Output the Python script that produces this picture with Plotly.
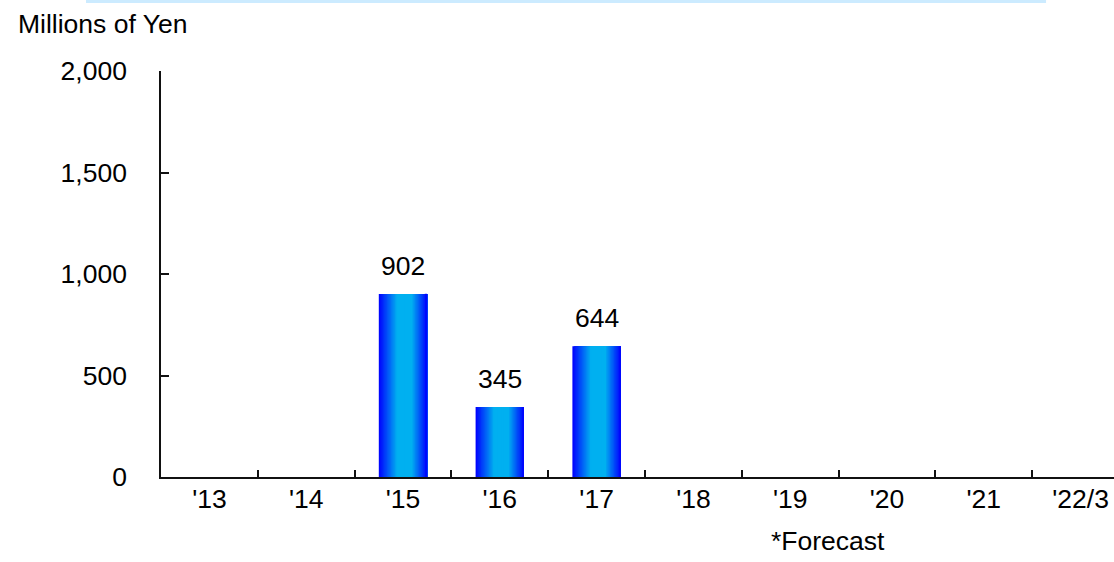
import plotly.graph_objects as go

# Fiscal years on the category axis and the reported amounts (millions of yen)
years = ["'13", "'14", "'15", "'16", "'17", "'18", "'19", "'20", "'21", "'22/3"]
amounts = [None, None, 902, 345, 644, None, None, None, None, None]
y_ticks = [0, 500, 1000, 1500, 2000]
y_tick_text = ["0", "500", "1,000", "1,500", "2,000"]

FONT = "Liberation Sans, Arial, sans-serif"
FS = 26.5
BAR_W = 0.5
N_SLICES = 36

BLUE = (0, 0, 255)
CYAN = (0, 176, 240)
# horizontal gradient stops across the bar width: blue edge -> cyan band -> blue edge
stops = [(0.0, BLUE), (0.38, CYAN), (0.68, CYAN), (1.0, BLUE)]


def grad_color(t):
    for (t0, c0), (t1, c1) in zip(stops[:-1], stops[1:]):
        if t0 <= t <= t1:
            f = 0 if t1 == t0 else (t - t0) / (t1 - t0)
            r, g, b = (round(a + (bb - a) * f) for a, bb in zip(c0, c1))
            return f"rgb({r},{g},{b})"
    return f"rgb{stops[-1][1]}"


fig = go.Figure()

# Each bar is layered from left to right: every slice starts a little further
# right and runs to the bar's right edge, so later slices paint over earlier ones
step = BAR_W / N_SLICES
for i in range(N_SLICES):
    t = (i + 0.5) / N_SLICES
    fig.add_trace(go.Bar(
        x=years,
        y=amounts,
        offset=-BAR_W / 2 + i * step,
        width=BAR_W - i * step,
        marker=dict(color=grad_color(t), line=dict(width=0)),
        showlegend=False,
        hoverinfo="skip",
    ))

# value labels above the bars
for yr, v in zip(years, amounts):
    if v is not None:
        fig.add_annotation(
            x=yr, y=v, text=f"{v:,}", showarrow=False,
            yanchor="bottom", yshift=11,
            font=dict(family=FONT, size=FS, color="#000000"),
        )

fig.add_annotation(
    xref="paper", yref="paper", x=-0.152, y=1.1158,
    text="Millions of Yen", showarrow=False,
    xanchor="left", yanchor="middle",
    font=dict(family=FONT, size=FS, color="#000000"),
)
fig.add_annotation(
    xref="paper", yref="paper", x=0.6999, y=-0.1576,
    text="*Forecast", showarrow=False,
    xanchor="center", yanchor="middle",
    font=dict(family=FONT, size=FS, color="#000000"),
)

# thin light-blue band along the top edge
fig.add_shape(
    type="rect", xref="paper", yref="paper",
    x0=-0.0787, x1=0.9287, y0=1.1675, y1=1.2,
    fillcolor="#CCEBFF", line=dict(width=0), layer="below",
)

fig.update_layout(
    width=1114, height=562,
    margin=dict(l=161, r=0, t=71, b=85),
    paper_bgcolor="white", plot_bgcolor="white",
    barmode="overlay",
    font=dict(family=FONT, size=FS, color="#000000"),
    xaxis=dict(
        type="category",
        categoryorder="array", categoryarray=years,
        range=[-0.5, 9.345],
        showline=True, linecolor="#111111", linewidth=1.6,
        ticks="inside", ticklen=7, tickwidth=1.6, tickcolor="#111111",
        tickson="boundaries",
        showgrid=False, zeroline=False,
        ticklabelstandoff=-3,
        tickfont=dict(family=FONT, size=FS, color="#000000"),
        fixedrange=True,
    ),
    yaxis=dict(
        range=[0, 2000],
        tickvals=y_ticks, ticktext=y_tick_text,
        showline=True, linecolor="#111111", linewidth=1.6,
        ticks="inside", ticklen=8, tickwidth=1.6, tickcolor="#111111",
        showgrid=False, zeroline=False,
        ticklabelstandoff=27,
        tickfont=dict(family=FONT, size=FS, color="#000000"),
        fixedrange=True,
    ),
)

fig.write_html("out.html")
